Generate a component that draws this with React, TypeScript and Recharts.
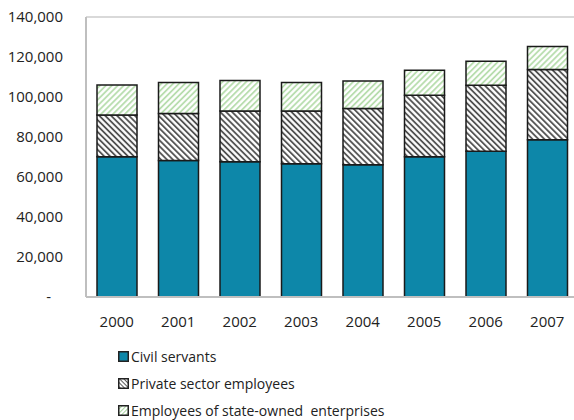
import React from "react";
import {
  BarChart,
  Bar,
  XAxis,
  YAxis,
  Legend,
  ReferenceLine,
} from "recharts";

const years = ["2000", "2001", "2002", "2003", "2004", "2005", "2006", "2007"];
const civilServants = [70100, 68200, 67600, 66600, 66100, 70100, 72900, 78600];
const privateSector = [20900, 23500, 25400, 26400, 28200, 30800, 33000, 35100];
const stateOwned = [15000, 15500, 15200, 14200, 13700, 12500, 12000, 11600];
const yTicks = [0, 20000, 40000, 60000, 80000, 100000, 120000, 140000];

const seriesNames = [
  "Civil servants",
  "Private sector employees",
  "Employees of state-owned  enterprises",
];

const data = years.map((y, i) => ({
  year: y,
  civil: civilServants[i],
  private: privateSector[i],
  state: stateOwned[i],
}));

const FONT = "'Open Sans', sans-serif";
const TEAL = "#0d87a9";

// y tick: Excel accounting style, zero shown as a dash
const YTick = (props: any) => {
  const { x, y, payload } = props;
  const v = payload.value;
  if (v === 0) {
    return (
      <text x={x - 12} y={y} dy="0.35em" textAnchor="end" fontSize={15} fill="#222" fontFamily={FONT}>
        -
      </text>
    );
  }
  return (
    <text x={x} y={y} dy="0.35em" textAnchor="end" fontSize={15} fill="#222" fontFamily={FONT}>
      {v.toLocaleString("en-US")}
    </text>
  );
};

const LegendIcon = ({ idx }: { idx: number }) => (
  <svg width={11} height={11} style={{ marginRight: 2, flexShrink: 0 }}>
    <defs>
      <pattern id={`lg-hatch-${idx}`} width="3" height="3" patternUnits="userSpaceOnUse" patternTransform={idx === 1 ? "rotate(-45)" : "rotate(45)"}>
        <rect width="3" height="3" fill="#fff" />
        <line x1="0" y1="0" x2="0" y2="3" stroke={idx === 1 ? "#333" : "#8fcb85"} strokeWidth="1.6" />
      </pattern>
    </defs>
    <rect
      x={0.75}
      y={0.75}
      width={9.5}
      height={9.5}
      fill={idx === 0 ? TEAL : `url(#lg-hatch-${idx})`}
      stroke="#222"
      strokeWidth={1.5}
    />
  </svg>
);

// zero-height box so the legend does not take space from the plot
const renderLegend = () => (
  <div style={{ height: 0, overflow: "visible" }}>
    <div style={{ fontFamily: FONT, fontSize: 14, color: "#222" }}>
      {seriesNames.map((n, i) => (
        <div key={n} style={{ display: "flex", alignItems: "center", height: 27, whiteSpace: "pre" }}>
          <LegendIcon idx={i} />
          <span>{n}</span>
        </div>
      ))}
    </div>
  </div>
);

export default function App() {
  return (
    <div style={{ position: "absolute", left: 0, top: 0, width: 574, height: 420, overflow: "hidden", background: "#fff" }}>
      <BarChart
        width={590}
        height={420}
        data={data}
        margin={{ top: 17, right: 12, left: 0, bottom: 83 }}
        barSize={40}
      >
        <defs>
          <pattern id="hatch-private" width="4.2" height="4.2" patternUnits="userSpaceOnUse" patternTransform="rotate(-45)">
            <rect width="4.2" height="4.2" fill="#fff" />
            <line x1="1" y1="0" x2="1" y2="4.2" stroke="#444" strokeWidth="1.7" />
          </pattern>
          <pattern id="hatch-state" width="4.2" height="4.2" patternUnits="userSpaceOnUse" patternTransform="rotate(45)">
            <rect width="4.2" height="4.2" fill="#fff" />
            <line x1="1" y1="0" x2="1" y2="4.2" stroke="#b2dba8" strokeWidth="1.7" />
          </pattern>
        </defs>
        <ReferenceLine y={140000} stroke="#d9d9d9" strokeWidth={2} />
        <XAxis
          dataKey="year"
          tickLine={false}
          tickSize={0}
          tickMargin={19}
          height={40}
          axisLine={{ stroke: "#bfbfbf", strokeWidth: 2 }}
          tick={{ fontSize: 15, fill: "#222", fontFamily: FONT }}
        />
        <YAxis
          width={86}
          domain={[0, 140000]}
          ticks={yTicks}
          tickLine={false}
          tickSize={0}
          tickMargin={23}
          axisLine={{ stroke: "#bfbfbf", strokeWidth: 2 }}
          tick={<YTick />}
          interval={0}
        />
        <Legend content={renderLegend} wrapperStyle={{ left: 118, top: 343, width: 420 }} />
        <Bar dataKey="civil" stackId="a" fill={TEAL} stroke="#1a1a1a" strokeWidth={1.5} isAnimationActive={false} />
        <Bar dataKey="private" stackId="a" fill="url(#hatch-private)" stroke="#1a1a1a" strokeWidth={1.5} isAnimationActive={false} />
        <Bar dataKey="state" stackId="a" fill="url(#hatch-state)" stroke="#1a1a1a" strokeWidth={1.5} isAnimationActive={false} />
      </BarChart>
    </div>
  );
}
